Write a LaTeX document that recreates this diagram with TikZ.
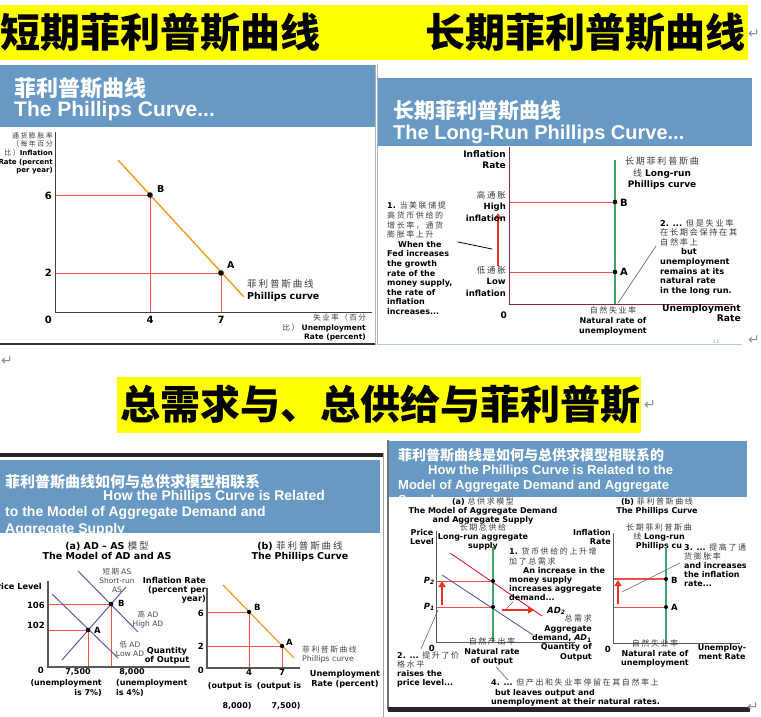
\documentclass[tikz,border=0pt]{standalone}
\usepackage{fontspec}
\setmainfont{DejaVu Sans}
\newfontfamily\cjk{Noto Sans CJK SC}
\newfontfamily\cjksp[LetterSpace=20]{Noto Sans CJK SC}
\newfontfamily\hdf{Liberation Sans}
\usetikzlibrary{arrows.meta}
\definecolor{hdr}{RGB}{104,152,196}
\definecolor{ban}{RGB}{255,255,0}
\definecolor{pcurve}{RGB}{240,150,20}
\definecolor{redl}{RGB}{240,80,70}
\definecolor{arrred}{RGB}{232,50,35}
\definecolor{adblue}{RGB}{90,90,170}
\definecolor{adred}{RGB}{215,30,60}
\definecolor{lrgreen}{RGB}{60,165,105}
\definecolor{axred}{RGB}{140,40,60}
\definecolor{zhgray}{RGB}{60,60,60}
\newcommand{\zhr}[1]{{\cjksp\mdseries\color{zhgray}#1}}
\tikzset{
  banner/.style={font=\cjk\bfseries\fontsize{40}{40}\selectfont, inner sep=0, anchor=west},
  hzh/.style={font=\cjk\bfseries\fontsize{#1}{#1}\selectfont, text=white, inner sep=0, anchor=west},
  hen/.style={font=\hdf\bfseries\fontsize{#1}{#1}\selectfont, text=white, inner sep=0, anchor=west},
  lb/.style 2 args={font=\bfseries\fontsize{#1}{#2}\selectfont, inner sep=0},
  gl/.style 2 args={font=\fontsize{#1}{#2}\selectfont, inner sep=0, text=black!70},
  guide/.style={draw=redl, line width=0.7},
  axisl/.style={draw=black!65, line width=1},
  bigarrow/.style={draw=arrred, line width=2.6, -{Triangle[length=6pt,width=7pt]}},
  pointer/.style={draw=black!60, line width=0.6},
  retmark/.style={font=\fontsize{14}{14}\selectfont, text=black!45, inner sep=0}
}
\begin{document}
\begin{tikzpicture}[x=1pt,y=-1pt]
\path[use as bounding box, fill=white] (0,0) rectangle (761,717);

% ---------- top banner ----------
\fill[ban] (0,5) rectangle (748,60);
\node[banner] (ban1) at (0,33) {短期菲利普斯曲线};
\node[banner] (ban2) at (425,33) {长期菲利普斯曲线};
\node[retmark] (ret1) at (754,34) {↵};

% ---------- top-left panel ----------
\begin{scope}
\clip (0,62) rectangle (376,347);
\fill[hdr] (0,65) rectangle (375,127);
\node[hzh=22] (h1a) at (14,88) {菲利普斯曲线};
\node[hen=21] (h1b) at (14,111) {The Phillips Curve...};
\draw[black!80, line width=2] (0,344) -- (376,344);
\end{scope}
\draw[black!30, line width=1] (375.5,65) -- (375.5,345);

\coordinate (o1) at (55,312);
\coordinate (ytop1) at (55,132);
\coordinate (xend1) at (372,312);
\coordinate (B1) at (150,195);
\coordinate (A1) at (221,273);
\draw[guide] (o1 |- B1) -- (B1) -- (B1 |- o1);
\draw[guide] (o1 |- A1) -- (A1) -- (A1 |- o1);
\draw[axisl, draw=black!75] (ytop1) -- (o1) -- (xend1);
\coordinate (pc1s) at (118,160);
\coordinate (pc1e) at (244,297);
\draw[pcurve, line width=1.3] (pc1s) -- (pc1e);
\fill (B1) circle (2.8);
\fill (A1) circle (2.8);
\node[lb={9.5}{10}, anchor=west] (lB1) at (157,189) {B};
\node[lb={9.5}{10}, anchor=west] (lA1) at (227,265) {A};
\node[lb={10}{10}, anchor=east] (t6a) at (52,196) {6};
\node[lb={10}{10}, anchor=east] (t2a) at (52,273) {2};
\node[lb={10}{10}, anchor=east] (t0a) at (52,320) {0};
\node[lb={10}{10}] (t4a) at (150,320) {4};
\node[lb={10}{10}] (t7a) at (221,320) {7};
\node[lb={7}{8.7}, anchor=north east, align=right] (yl1) at (53,132)
  {\zhr{通货膨胀率}\\\zhr{（每年百分}\\\zhr{比）}Inflation\\Rate (percent\\per year)};
\node[lb={7.5}{9.6}, anchor=north east, align=right] (xl1) at (366,314)
  {\zhr{失业率（百分}\\\zhr{比）} Unemployment\\Rate (percent)};
\node[lb={9.5}{12.5}, anchor=north west, align=left] (pcl1) at (247,279)
  {\zhr{菲利普斯曲线}\\Phillips curve};
\node[retmark] (ret2) at (7,361) {↵};

% ---------- top-right panel ----------
\draw[black!30, line width=1] (377.5,65) -- (377.5,345);
\fill[hdr] (378,78) rectangle (752,146);
\node[hzh=21] (h2a) at (393,111) {长期菲利普斯曲线};
\node[hen=20] (h2b) at (393,134) {The Long-Run Phillips Curve...};
\draw[hdr!50, line width=0.8] (378,344) -- (742,344);
\node[gl={4.5}{5}, text=black!40] (pg13) at (716,342) {13};
\node[retmark] (ret3) at (754,340) {↵};

\coordinate (o2) at (509,304);
\coordinate (ytop2) at (509,147);
\coordinate (xend2) at (733,304);
\coordinate (B2) at (615,202);
\coordinate (A2) at (615,272);
\coordinate (lr2) at (615,160);
\draw[guide] (o2 |- B2) -- (B2);
\draw[guide] (o2 |- A2) -- (A2);
\draw[lrgreen, line width=1.5] (lr2) -- (lr2 |- o2);
\draw[axred, line width=1] (ytop2) -- (o2) -- (xend2);
\fill (B2) circle (2.3);
\fill (A2) circle (2.3);
\node[lb={10}{10}, anchor=west] (lB2) at (620,203) {B};
\node[lb={10}{10}, anchor=west] (lA2) at (620,272) {A};
\coordinate (ar2s) at (498,266);
\coordinate (ar2e) at (498,213);
\draw[bigarrow] (ar2s) -- (ar2e);
\node[lb={9}{11}, anchor=north east, align=right] (yl2) at (506,150) {Inflation\\Rate};
\node[lb={8.5}{11.5}, anchor=north east, align=right] (hi2) at (506,191) {\zhr{高通胀}\\High\\inflation};
\node[lb={8.5}{11.5}, anchor=north east, align=right] (lo2) at (506,266) {\zhr{低通胀}\\Low\\inflation};
\node[lb={9}{9}, anchor=east] (t0b) at (507,315) {0};
\node[lb={8}{9.6}, anchor=north west, align=left] (n1t) at (387,202)
  {1. \zhr{当美联储提}\\\zhr{高货币供给的}\\\zhr{增长率，通货}\\\zhr{膨胀率上升}\\
   \hspace*{11pt}When the\\Fed increases\\the growth\\rate of the\\money supply,\\the rate of\\inflation\\increases...};
\coordinate (p1a) at (458,242);
\coordinate (p1b) at (492,249);
\draw[black, line width=0.8] (p1a) -- (p1b);
\node[lb={9}{11.5}, anchor=north, align=center] (lrl2) at (662,157)
  {\zhr{长期菲利普斯曲}\\\zhr{线} Long-run\\Phillips curve};
\node[lb={8.2}{9.6}, anchor=north west, align=left] (n2t) at (660,219)
  {2. ... \zhr{但是失业率}\\\zhr{在长期会保持在其}\\\zhr{自然率上}\\\hspace*{21pt}but\\unemployment\\remains at its\\natural rate\\in the long run.};
\coordinate (p2a) at (656,246);
\coordinate (p2b) at (618,303);
\draw[pointer] (p2a) -- (p2b);
\node[lb={8}{9.6}, anchor=north, align=center] (nat2) at (613,307)
  {\zhr{自然失业率}\\Natural rate of\\unemployment};
\node[lb={9.2}{10.5}, anchor=north east, align=right] (xl2) at (741,304) {Unemployment\\Rate};

% ---------- middle banner ----------
\fill[ban] (117,377) rectangle (641,433);
\node[banner] (ban3) at (120,405) {总需求与、总供给与菲利普斯};
\node[retmark] (ret4) at (650,405) {↵};

% ---------- bottom-left panel ----------
\fill[black!85] (0,453) rectangle (383,457);
\draw[black!35, line width=1] (383,453) -- (383,717);
\begin{scope}
\clip (0,460) rectangle (380,533);
\fill[hdr] (0,460) rectangle (380,533);
\node[hzh=15] (h3a) at (5,482) {菲利普斯曲线如何与总供求模型相联系};
\node[hen=14] (h3b) at (103,497) {How the Phillips Curve is Related};
\node[hen=14] (h3c) at (5,513) {to the Model of Aggregate Demand and};
\node[hen=14] (h3d) at (5,530) {Aggregate Supply};
\end{scope}

\node[lb={9.5}{10.5}, anchor=north, align=center] (ta3) at (107,541)
  {(a) AD – AS \zhr{模型}\\The Model of AD and AS};
\coordinate (o3) at (48,667);
\coordinate (ytop3) at (48,581);
\coordinate (xend3) at (190,667);
\coordinate (B3) at (111,604);
\coordinate (A3) at (88,630);
\draw[guide] (o3 |- B3) -- (B3) -- (B3 |- o3);
\draw[guide] (o3 |- A3) -- (A3) -- (A3 |- o3);
\draw[axisl, line width=1.2] (ytop3) -- (o3) -- (xend3);
\coordinate (as3s) at (62,660);
\coordinate (as3e) at (126,587);
\coordinate (lad3s) at (52,594);
\coordinate (lad3e) at (118,658);
\coordinate (had3s) at (78,571);
\coordinate (had3e) at (138,632);
\draw[adblue, line width=1] (as3s) -- (as3e);
\draw[adblue, line width=1] (lad3s) -- (lad3e);
\draw[adblue, line width=1] (had3s) -- (had3e);
\fill (B3) circle (2.3);
\fill (A3) circle (2.3);
\node[lb={8.5}{9}, anchor=west] (lB3) at (118,603) {B};
\node[lb={8.5}{9}, anchor=west] (lA3) at (94,630) {A};
\node[gl={7.5}{9}, anchor=north, align=center] (sras3) at (117,568) {{\cjksp 短期} AS\\Short-run\\AS};
\node[gl={7.5}{9}, anchor=north, align=center] (had3l) at (148,611) {{\cjk 高} AD\\High AD};
\node[gl={7.5}{9}, anchor=north, align=center] (lad3l) at (130,641) {{\cjk 低} AD\\Low AD};
\node[lb={8.2}{9.2}, anchor=north, align=center] (q3) at (167,647) {Quantity\\of Output};
\node[lb={8.2}{9}, anchor=north east, align=right] (ir3) at (206,577) {Inflation Rate\\(percent per\\year)};
\node[lb={8.2}{9}, anchor=east] (pl3) at (42,586) {Price Level};
\node[lb={8.5}{9}, anchor=east] (t106) at (45,605) {106};
\node[lb={8.5}{9}, anchor=east] (t102) at (45,625) {102};
\node[lb={8.5}{9}, anchor=east] (t0c) at (44,670) {0};
\node[lb={8}{10}, anchor=north] (t7500) at (78,668) {7,500};
\node[lb={8}{10}, anchor=north east, align=right] (u7) at (102,679) {(unemployment\\is 7\%)};
\node[lb={8}{10}, anchor=north] (t8000) at (132,668) {8,000};
\node[lb={8}{10}, anchor=north west, align=left] (u4) at (116,679) {(unemployment\\is 4\%)};

\node[lb={9.5}{10.5}, anchor=north, align=center] (tb3) at (300,541)
  {(b) \zhr{菲利普斯曲线}\\The Phillips Curve};
\coordinate (o4) at (207,668);
\coordinate (ytop4) at (207,588);
\coordinate (xend4) at (300,668);
\coordinate (B4) at (249,612);
\coordinate (A4) at (282,646);
\draw[guide] (o4 |- B4) -- (B4) -- (B4 |- o4);
\draw[guide] (o4 |- A4) -- (A4) -- (A4 |- o4);
\draw[axisl, line width=1.2] (ytop4) -- (o4) -- (xend4);
\coordinate (pc4s) at (223,585);
\coordinate (pc4e) at (294,658);
\draw[pcurve, line width=1.1] (pc4s) -- (pc4e);
\fill (B4) circle (2.2);
\fill (A4) circle (2.2);
\node[lb={8.5}{9}, anchor=west] (lB4) at (254,607) {B};
\node[lb={8.5}{9}, anchor=west] (lA4) at (286,642) {A};
\node[lb={8.5}{9}, anchor=east] (t6d) at (204,613) {6};
\node[lb={8.5}{9}, anchor=east] (t2d) at (204,646) {2};
\node[lb={8.5}{9}, anchor=east] (t0d) at (204,670) {0};
\node[lb={8.5}{9}, anchor=north] (t4d) at (249,669) {4};
\node[lb={8.5}{9}, anchor=north] (t7d) at (282,669) {7};
\node[gl={7.8}{9}, anchor=north west, align=left] (pcl4) at (302,646) {{\cjksp 菲利普斯曲线}\\Phillips curve};
\node[lb={8}{9}] (oi4a) at (230,686) {(output is};
\node[lb={8}{9}] (oi7a) at (279,686) {(output is};
\node[lb={8}{9}] (oi4b) at (237,706) {8,000)};
\node[lb={8}{9}] (oi7b) at (286,706) {7,500)};
\node[lb={8.2}{10}, anchor=north, align=center] (xl4) at (345,670) {Unemployment\\Rate (percent)};

% ---------- bottom-right panel ----------
\draw[black!55, line width=1.5] (388,440) -- (388,710);
\fill[black!85] (388,707) rectangle (750,712);
\begin{scope}
\clip (389,441) rectangle (747,497);
\fill[hdr] (389,441) rectangle (747,497);
\node[hzh=14] (h4a) at (398,455) {菲利普斯曲线是如何与总供求模型相联系的};
\node[hen=13] (h4b) at (428,471) {How the Phillips Curve is Related to the};
\node[hen=13] (h4c) at (398,486) {Model of Aggregate Demand and Aggregate};
\node[hen=13] (h4d) at (398,501) {Supply};
\end{scope}

\node[lb={8}{9}, anchor=north, align=center] (ta5) at (483,498)
  {(a) \zhr{总供求模型}\\The Model of Aggregate Demand\\and Aggregate Supply};
\node[lb={8}{9}, anchor=north, align=center] (lras5) at (483,524)
  {\zhr{长期总供给}\\Long-run aggregate\\supply};
\node[lb={8}{9}, anchor=north, align=center] (pl5) at (422,529) {Price\\Level};
\coordinate (o5) at (436,642);
\coordinate (ytop5) at (436,531);
\coordinate (xend5) at (575,642);
\coordinate (P2) at (493,581);
\coordinate (P1) at (493,607);
\coordinate (lr5) at (493,547);
\draw[guide] (o5 |- P2) -- (P2);
\draw[guide] (o5 |- P1) -- (P1);
\draw[lrgreen, line width=1.2] (lr5) -- (lr5 |- o5);
\draw[axisl] (ytop5) -- (o5) -- (xend5);
\coordinate (ad1s) at (442,575);
\coordinate (ad1e) at (533,635);
\coordinate (ad2s) at (450,553);
\coordinate (ad2e) at (542,616);
\draw[adblue, line width=0.9] (ad1s) -- (ad1e);
\draw[adred, line width=0.9] (ad2s) -- (ad2e);
\fill (P2) circle (2);
\fill (P1) circle (2);
\node[lb={8.5}{9}, anchor=east] (lP2) at (435,581) {\itshape P\textsubscript{2}};
\node[lb={8.5}{9}, anchor=east] (lP1) at (435,607) {\itshape P\textsubscript{1}};
\coordinate (ar5s) at (442,605);
\coordinate (ar5e) at (442,581);
\draw[bigarrow, line width=2.4] (ar5s) -- (ar5e);
\coordinate (ar6s) at (502,610);
\coordinate (ar6e) at (534,610);
\draw[bigarrow, line width=2.4] (ar6s) -- (ar6e);
\node[lb={8}{9.2}, anchor=north west, align=left] (n51) at (509,548)
  {1. \zhr{货币供给的上升增}\\\zhr{加了总需求}\\\hspace*{14pt}An increase in the\\money supply\\increases aggregate\\demand...};
\coordinate (p5a) at (513,602);
\coordinate (p5b) at (506,609);
\draw[pointer] (p5a) -- (p5b);
\node[lb={8.5}{9}, anchor=west] (lAD2) at (547,611) {\itshape AD\textsubscript{2}};
\node[lb={8}{9.3}, anchor=north east, align=right] (agd5) at (592,615)
  {\zhr{总需求}\\Aggregate\\demand, \textit{AD}\textsubscript{1}\\Quantity of\\Output};
\node[lb={8.5}{9}, anchor=east] (t0e) at (435,648) {0};
\node[lb={8}{9.5}, anchor=north, align=center] (nat5) at (492,638)
  {\zhr{自然产出率}\\Natural rate\\of output};
\node[lb={8}{9}, anchor=north west, align=left] (n52) at (397,652)
  {2. ... \zhr{提升了价}\\\zhr{格水平}\\raises the\\price level...};
\coordinate (p6a) at (421,649);
\coordinate (p6b) at (438,610);
\draw[pointer] (p6a) -- (p6b);
\coordinate (p7a) at (496,667);
\coordinate (p7b) at (508,680);
\draw[pointer] (p7a) -- (p7b);
\node[lb={8}{9.5}, anchor=north west, align=left] (n54) at (491,679)
  {4. ... \zhr{但产出和失业率停留在其自然率上}\\\hspace*{4pt}but leaves output and\\unemployment at their natural rates.};

\node[lb={8}{9}, anchor=north, align=center] (tb5) at (657,498)
  {(b) \zhr{菲利普斯曲线}\\The Phillips Curve};
\node[lb={8}{9}, anchor=north, align=center] (lrl6) at (659,524)
  {\zhr{长期菲利普斯曲}\\\zhr{线} Long-run\\Phillips cu};
\node[lb={8}{9}, anchor=north east, align=right] (ir6) at (611,529) {Inflation\\Rate};
\coordinate (o6) at (613,643);
\coordinate (ytop6) at (613,533);
\coordinate (xend6) at (740,643);
\coordinate (B6) at (666,579);
\coordinate (A6) at (666,607);
\coordinate (lr6) at (666,547);
\draw[guide, line width=1.2] (o6 |- B6) -- (B6);
\draw[guide] (o6 |- A6) -- (A6);
\draw[lrgreen, line width=1.2] (lr6) -- (lr6 |- o6);
\draw[axisl] (ytop6) -- (o6) -- (xend6);
\fill (B6) circle (2);
\fill (A6) circle (2);
\node[lb={8.5}{9}, anchor=west] (lB6) at (671,580) {B};
\node[lb={8.5}{9}, anchor=west] (lA6) at (671,607) {A};
\coordinate (ar7s) at (618,604);
\coordinate (ar7e) at (618,580);
\draw[bigarrow, line width=2.4] (ar7s) -- (ar7e);
\coordinate (p8a) at (622,592);
\coordinate (p8b) at (680,563);
\draw[pointer] (p8a) -- (p8b);
\node[lb={8}{9}, anchor=north west, align=left] (n53) at (684,544)
  {3. ... \zhr{提高了通}\\\zhr{货膨胀率}\\and increases\\the inflation\\rate...};
\node[lb={8.5}{9}, anchor=east] (t0f) at (611,649) {0};
\node[lb={8}{9.2}, anchor=north, align=center] (nat6) at (655,640)
  {\zhr{自然失业率}\\Natural rate of\\unemployment};
\node[lb={8}{9.2}, anchor=north, align=center] (xl6) at (722,644) {Unemploy-\\ment Rate};
\node[retmark] (ret5) at (753,707) {↵};
\end{tikzpicture}
\end{document}
